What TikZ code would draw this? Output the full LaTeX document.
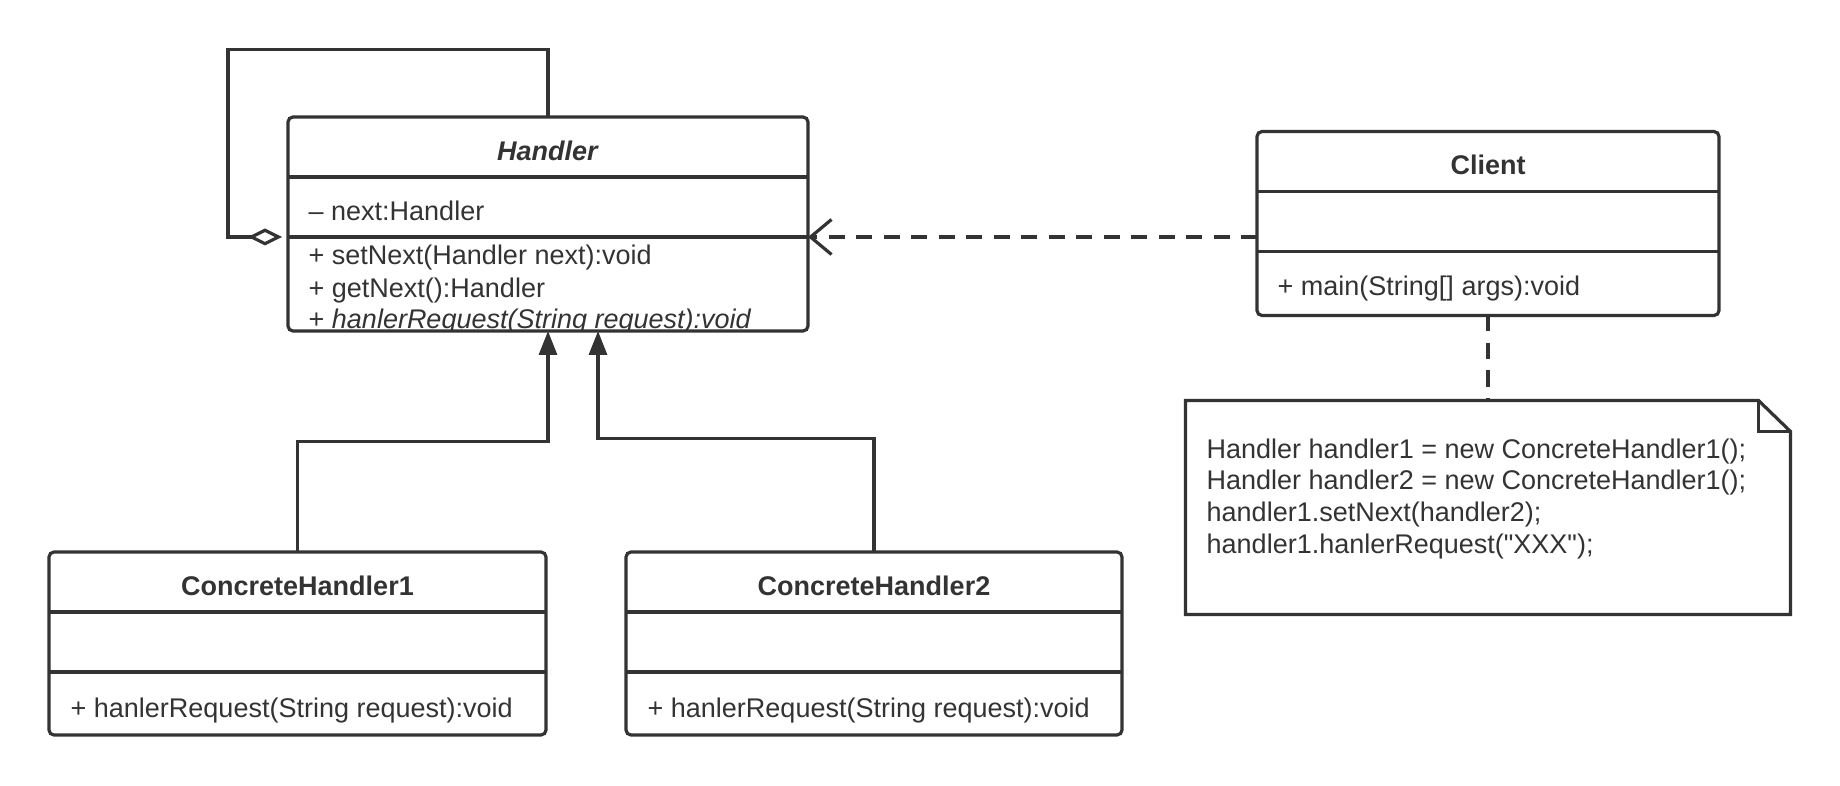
\documentclass[tikz,border=0pt]{standalone}
\usepackage{fontspec}
\setmainfont{Liberation Sans}[Ligatures=TeXOff]
\usetikzlibrary{arrows.meta,calc}
\definecolor{ink}{HTML}{333333}
\begin{document}
\begin{tikzpicture}[x=1pt,y=-1pt,line cap=butt,line join=miter]
	\tikzset{
		umlline/.style={draw=ink,line width=3.2pt},
		cls/.style={umlline,rounded corners=5pt,anchor=north west,inner sep=0pt,outer sep=0pt},
		txt/.style={font=\fontsize{27}{32}\selectfont,text=ink,inner sep=0pt},
		ttl/.style={txt,font=\fontsize{27}{32}\selectfont\bfseries,anchor=base},
		mbr/.style={txt,anchor=base west},
		agg/.style={umlline,{Diamond[open,fill=white,length=34pt,width=17pt]}-,shorten <=6pt},
		dep/.style={umlline,dash pattern=on 16pt off 11.5pt,-{Straight Barb[length=21pt,width=35pt,sharp]}},
		inh/.style={umlline,-{Triangle[length=24pt,width=18pt]}},
		notelink/.style={umlline,dash pattern=on 16pt off 11.5pt}
	}
	\useasboundingbox (0,0) rectangle (1840,786);
	% classes
	\node[cls,minimum width=520pt,minimum height=214pt] (handler) at (288,117) {};
	\node[cls,minimum width=462pt,minimum height=184pt] (client) at (1257,131.5) {};
	\node[cls,minimum width=497pt,minimum height=183pt] (ch1) at (49,552) {};
	\node[cls,minimum width=496pt,minimum height=183pt] (ch2) at (626,552) {};
	\node[inner sep=0pt,outer sep=0pt,anchor=north west,minimum width=605pt,minimum height=214pt] (note) at (1185.5,400.5) {};
	\foreach \c/\t in {handler/\textit{Handler},client/Client,ch1/ConcreteHandler1,ch2/ConcreteHandler2}{
		\draw[umlline] ($(\c.north west)+(0,60)$) -- ($(\c.north east)+(0,60)$);
		\draw[umlline] ($(\c.north west)+(0,120)$) -- ($(\c.north east)+(0,120)$);
		\node[ttl] (\c-title) at ($(\c.north)+(0,43.5)$) {\t};
	}
	% members
	\node[mbr] (handler-next) at ($(handler.north west)+(20.5,103.5)$) {– next:Handler};
	\begin{scope}
		\clip (handler.north west) rectangle (handler.south east);
		\node[mbr] (handler-set) at ($(handler.north west)+(20.5,148)$) {+ setNext(Handler next):void};
		\node[mbr] (handler-get) at ($(handler.north west)+(20.5,180.5)$) {+ getNext():Handler};
		\node[mbr] (handler-req) at ($(handler.north west)+(20.5,212)$) {+ \textit{hanlerRequest(String request):void}};
	\end{scope}
	\node[mbr] (client-main) at ($(client.north west)+(20.5,164)$) {+ main(String[] args):void};
	\foreach \c in {ch1,ch2}
		\node[mbr] (\c-req) at ($(\c.north west)+(21.5,165.5)$) {+ hanlerRequest(String request):void};
	% note
	\draw[umlline] (note.north west) -- ($(note.north east)+(-32,0)$) -- ($(note.north east)+(0,31)$) -- (note.south east) -- (note.south west) -- cycle;
	\draw[umlline] ($(note.north east)+(-32,0)$) |- ($(note.north east)+(0,31)$);
	\foreach \src [count=\i] in {{Handler handler1 = new ConcreteHandler1();},{Handler handler2 = new ConcreteHandler1();},{handler1.setNext(handler2);},{handler1.hanlerRequest("XXX");}}
		\node[mbr] (note-l\i) at ($(note.north west)+(21,57.5+31.8*\i-31.8)$) {\src};
	% connectors
	\coordinate (loop) at (228,49.3);
	\coordinate (h-d2w) at ($(handler.north west)+(0,120)$);
	\coordinate (h-d2e) at ($(handler.north east)+(0,120)$);
	\coordinate (j1) at (548,441.7);
	\coordinate (j2) at (598,438.3);
	\draw[agg] (h-d2w) -| (loop) -| (handler.north);
	\draw[dep] (client.west |- h-d2e) -- (h-d2e);
	\draw[inh] (ch1.north) |- (j1) -- (handler.south);
	\draw[inh] (ch2.north) |- (j2) -- (j2 |- handler.south);
	\draw[notelink] (client.south) -- (client.south |- note.north);
\end{tikzpicture}
\end{document}
